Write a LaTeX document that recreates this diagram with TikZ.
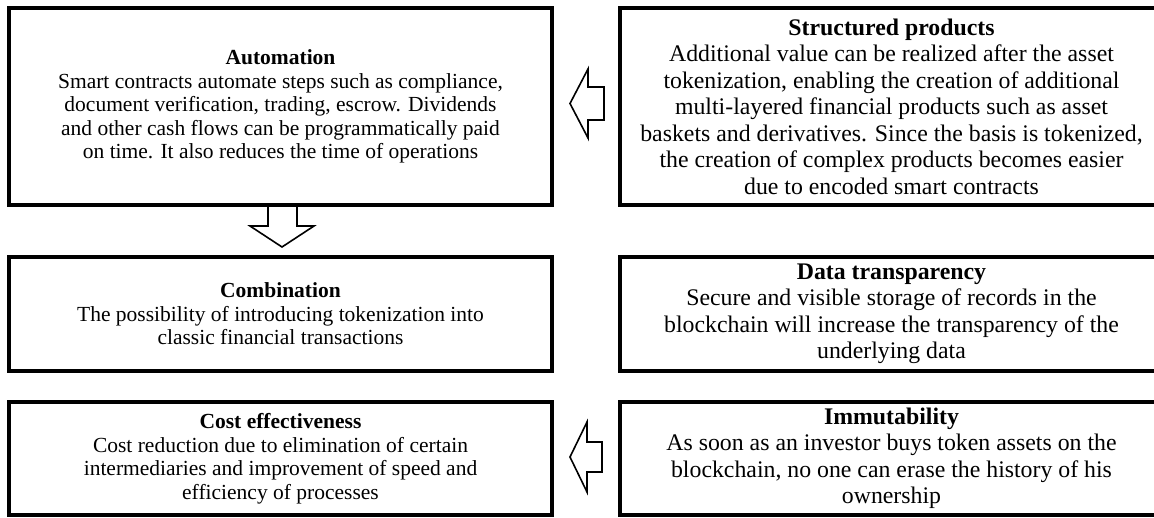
\documentclass[tikz,border=0pt]{standalone}
\usepackage{fontspec}
\setmainfont{Liberation Serif}

\begin{document}
\begin{tikzpicture}[x=1pt, y=-1pt,
    factor/.style ={rectangle, draw, line width=3.5pt, inner sep=0pt, align=center,
                    minimum width=543pt, font=\fontsize{21.5}{23.5}\selectfont},
    bigfactor/.style ={factor, font=\fontsize{23.8}{26.5}\selectfont},
    blockarrow/.style ={draw, line width=1.6pt, line join=miter}]
   \useasboundingbox (0,0) rectangle (1154,517);

   % left column
   \node[factor, minimum height=197pt] (auto) at (280.5,106.5)
      {\textbf{Automation}\\
       Smart contracts automate steps such as compliance,\\
       document verification, trading, escrow. Dividends\\
       and other cash flows can be programmatically paid\\
       on time. It also reduces the time of operations};
   \node[factor, minimum height=114pt] (comb) at (280.5,314)
      {\textbf{Combination}\\
       The possibility of introducing tokenization into\\
       classic financial transactions};
   \node[factor, minimum height=113pt] (cost) at (280.5,458.5)
      {\textbf{Cost effectiveness}\\
       Cost reduction due to elimination of certain\\
       intermediaries and improvement of speed and\\
       efficiency of processes};

   % right column
   \node[bigfactor, minimum height=197pt] (struct) at (891.5,106.5)
      {\textbf{Structured products}\\
       Additional value can be realized after the asset\\
       tokenization, enabling the creation of additional\\
       multi-layered financial products such as asset\\
       baskets and derivatives. Since the basis is tokenized,\\
       the creation of complex products becomes easier\\
       due to encoded smart contracts};
   \node[bigfactor, minimum height=114pt] (data) at (891.5,314)
      {\textbf{Data transparency}\\
       Secure and visible storage of records in the\\
       blockchain will increase the transparency of the\\
       underlying data};
   \node[bigfactor, minimum height=113pt] (immut) at (891.5,458.5)
      {\textbf{Immutability}\\
       As soon as an investor buys token assets on the\\
       blockchain, no one can erase the history of his\\
       ownership};

   % block arrows
   \draw[blockarrow] (604,87) -- (588,87) -- (588,69) -- (570,103.5)
      -- (588,138) -- (588,120) -- (604,120) -- cycle;
   \draw[blockarrow] (auto.south -| 268,0) -- (268,226) -- (250,226) -- (282,247)
      -- (314,226) -- (297,226) -- (auto.south -| 297,0);
   \draw[blockarrow] (602,442) -- (587,442) -- (587,422) -- (570,457)
      -- (587,492) -- (587,472) -- (602,472) -- cycle;
 \end{tikzpicture}
\end{document}
